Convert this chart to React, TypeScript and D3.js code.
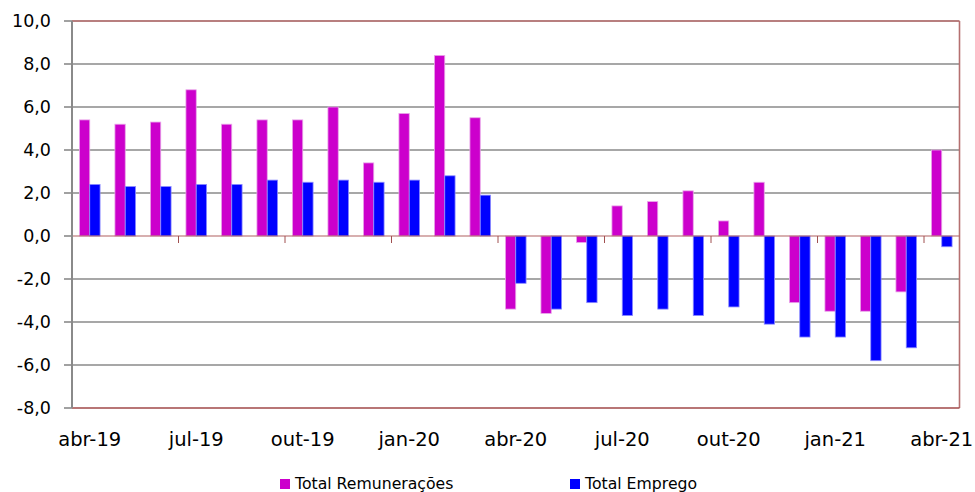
import React from 'react';
import { scaleBand, scaleLinear } from 'd3';

const months = [
  'abr-19', 'mai-19', 'jun-19', 'jul-19', 'ago-19', 'set-19', 'out-19', 'nov-19', 'dez-19',
  'jan-20', 'fev-20', 'mar-20', 'abr-20', 'mai-20', 'jun-20', 'jul-20', 'ago-20', 'set-20',
  'out-20', 'nov-20', 'dez-20', 'jan-21', 'fev-21', 'mar-21', 'abr-21',
];
const remuneracoes = [
  5.4, 5.2, 5.3, 6.8, 5.2, 5.4, 5.4, 6.0, 3.4, 5.7, 8.4, 5.5,
  -3.4, -3.6, -0.3, 1.4, 1.6, 2.1, 0.7, 2.5, -3.1, -3.5, -3.5, -2.6, 4.0,
];
const emprego = [
  2.4, 2.3, 2.3, 2.4, 2.4, 2.6, 2.5, 2.6, 2.5, 2.6, 2.8, 1.9,
  -2.2, -3.4, -3.1, -3.7, -3.4, -3.7, -3.3, -4.1, -4.7, -4.7, -5.8, -5.2, -0.5,
];
const yTicks = [-8, -6, -4, -2, 0, 2, 4, 6, 8, 10];
const seriesNames = ['Total Remunerações', 'Total Emprego'];
const seriesColors = ['#CC00CC', '#0000FF'];
const seriesEdges = ['#e9a6e9', '#8c8cff'];

const W = 975;
const H = 492;
const left = 72;
const right = 959.5;
const top = 21;
const bottom = 408;
const font = '"DejaVu Sans", Verdana, sans-serif';

export default function App() {
  const x = scaleBand<string>().domain(months).range([left, right]);
  const inner = scaleBand<string>()
    .domain(['rem', 'emp'])
    .range([0, x.bandwidth()])
    .paddingOuter(0.72);
  const y = scaleLinear().domain([-8, 10]).range([bottom, top]);
  const fmt = (v: number) => v.toFixed(1).replace('.', ',');
  const series = [remuneracoes, emprego];
  const keys = ['rem', 'emp'];

  return (
    <svg width={W} height={H} style={{ position: 'absolute', left: 0, top: 0, background: '#fff' }}>
      {/* gridlines */}
      {yTicks.filter(t => t !== 0 && t !== -8 && t !== 10).map(t => (
        <line key={t} x1={left} x2={right} y1={y(t)} y2={y(t)} stroke="#8a8a8a" strokeWidth={1.6} />
      ))}
      {/* y ticks and labels */}
      {yTicks.map(t => (
        <g key={'yt' + t}>
          <line x1={left - 8} x2={left} y1={y(t)} y2={y(t)} stroke="#8a8a8a" strokeWidth={1.6} />
          <text x={51} y={y(t)} dy="0.36em" textAnchor="end" fontFamily={font} fontSize={17.5} fill="#000">
            {fmt(t)}
          </text>
        </g>
      ))}
      {/* bars */}
      {series.map((vals, s) =>
        vals.map((v, i) => {
          const bx = (x(months[i]) ?? 0) + (inner(keys[s]) ?? 0);
          const y0 = y(Math.max(0, v));
          const y1 = y(Math.min(0, v));
          return (
            <rect
              key={s + '-' + i}
              x={bx}
              y={y0}
              width={inner.bandwidth()}
              height={y1 - y0}
              fill={seriesColors[s]}
              stroke={seriesEdges[s]}
              strokeWidth={0.8}
            />
          );
        })
      )}
      {/* frame */}
      <line x1={left} x2={right} y1={top} y2={top} stroke="#a05555" strokeWidth={1.6} />
      <line x1={right} x2={right} y1={top} y2={bottom} stroke="#b57070" strokeWidth={1.6} />
      <line x1={left} x2={right} y1={bottom} y2={bottom} stroke="#a04848" strokeWidth={1.6} />
      <line x1={left} x2={right} y1={y(0)} y2={y(0)} stroke="#b06060" strokeWidth={1.2} />
      <line x1={left} x2={left} y1={top} y2={bottom} stroke="#8a8a8a" strokeWidth={2} />
      {/* x ticks */}
      {months.map((m, i) =>
        i % 3 === 0 && i > 0 ? (
          <line key={'xt' + m} x1={x(m)} x2={x(m)} y1={y(0)} y2={y(0) + 7} stroke="#a05050" strokeWidth={1} />
        ) : null
      )}
      {/* x labels */}
      {months.map((m, i) =>
        i % 3 === 0 ? (
          <text
            key={'xl' + m}
            x={(x(m) ?? 0) + x.bandwidth() / 2}
            y={446}
            textAnchor="middle"
            fontFamily={font}
            fontSize={19.5}
            fill="#000"
          >
            {m}
          </text>
        ) : null
      )}
      {/* legend */}
      {seriesNames.map((name, s) => {
        const lx = s === 0 ? 280 : 570;
        return (
          <g key={name}>
            <rect x={lx} y={479} width={10} height={10} fill={seriesColors[s]} />
            <text x={lx + 15} y={489} fontFamily={font} fontSize={15.7} fill="#000">
              {name}
            </text>
          </g>
        );
      })}
    </svg>
  );
}
